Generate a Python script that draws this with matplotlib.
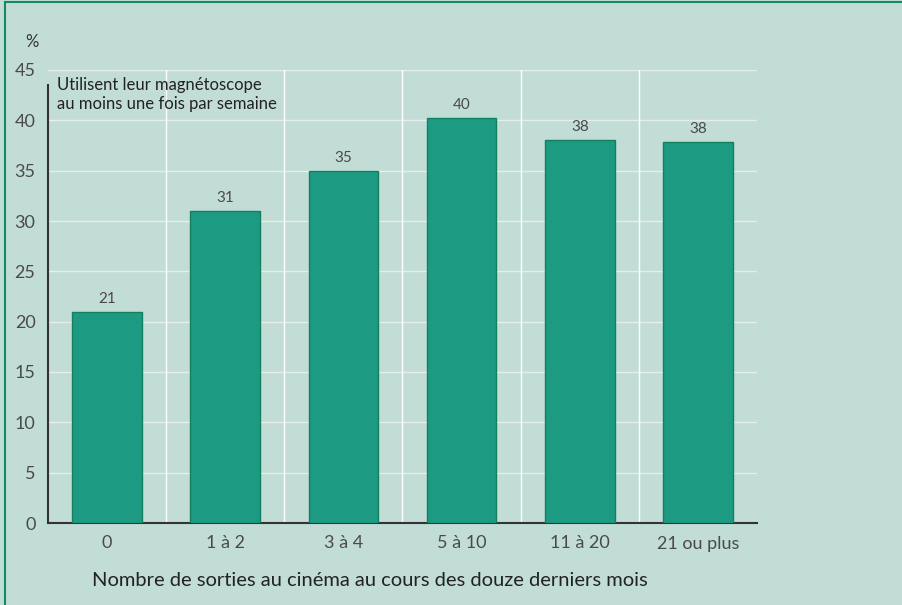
import numpy as np
import matplotlib
matplotlib.use('Agg')
import matplotlib.pyplot as plt
from matplotlib.lines import Line2D

categories = ['0', '1 à 2', '3 à 4', '5 à 10', '11 à 20', '21 ou plus']
values = [21, 31, 35, 40.2, 38, 37.8]
labels = ['21', '31', '35', '40', '38', '38']
yticks = [0, 5, 10, 15, 20, 25, 30, 35, 40, 45]

bg = '#c2ddd5'
bar_col = '#1d9a82'
edge_col = '#12805f'
txt_grey = '#4a4a4a'

plt.rcParams['font.family'] = ['Lato', 'DejaVu Sans']

fig = plt.figure(figsize=(9.03, 6.05), dpi=100, facecolor=bg)
axe = fig.add_axes([48/903, 1-523/605, 709/903, 453/605], facecolor=bg)

x = np.arange(len(categories))
axe.bar(x, values, width=0.59, color=bar_col, edgecolor=edge_col, linewidth=1, zorder=3)
for xi, v, lab in zip(x, values, labels):
    axe.text(xi, v + 0.6, lab, ha='center', va='bottom', fontsize=11,
             color=txt_grey, zorder=4)

axe.set_xlim(-0.5, len(categories) - 0.5)
axe.set_ylim(0, 45)
axe.set_yticks(yticks)
axe.set_yticklabels([str(t) for t in yticks], fontsize=13, color=txt_grey)
axe.set_xticks(x)
axe.set_xticklabels(categories, fontsize=13, color=txt_grey)
axe.tick_params(axis='both', length=0, pad=9)

# grid: horizontal lines at ticks, vertical lines between categories
for t in yticks[1:]:
    axe.axhline(t, color='#e6eeeb', linewidth=1, zorder=1)
for b in np.arange(0.5, len(categories) - 0.5, 1.0):
    axe.axvline(b, color='white', linewidth=1, zorder=1)
axe.axvline(len(categories) - 0.5, color='#d6dcda', linewidth=1, zorder=1)

for s in ['top', 'right']:
    axe.spines[s].set_visible(False)
axe.spines['left'].set_color('#333333')
axe.spines['bottom'].set_color('#333333')
axe.spines['left'].set_linewidth(1.5)
axe.spines['bottom'].set_linewidth(1.5)
axe.spines['left'].set_bounds(0, 43.5)

axe.text(0.012, 0.985, 'Utilisent leur magnétoscope\nau moins une fois par semaine',
         transform=axe.transAxes, ha='left', va='top', fontsize=12, color='#222222',
         linespacing=1.25, zorder=5)

fig.text(32/903, 1-42/605, '%', ha='center', va='center', fontsize=12, color='#333333')
fig.text(370/903, 1-580/605, 'Nombre de sorties au cinéma au cours des douze derniers mois',
         ha='center', va='center', fontsize=14.5, color='#222222')

# frame lines (top and left)
fig.add_artist(Line2D([5/903, 1], [1-2/605, 1-2/605], transform=fig.transFigure,
                      color='#128a66', linewidth=1.5))
fig.add_artist(Line2D([5/903, 5/903], [0, 1-2/605], transform=fig.transFigure,
                      color='#128a66', linewidth=1.5))

fig.savefig('out.png', dpi=100, facecolor=bg)
